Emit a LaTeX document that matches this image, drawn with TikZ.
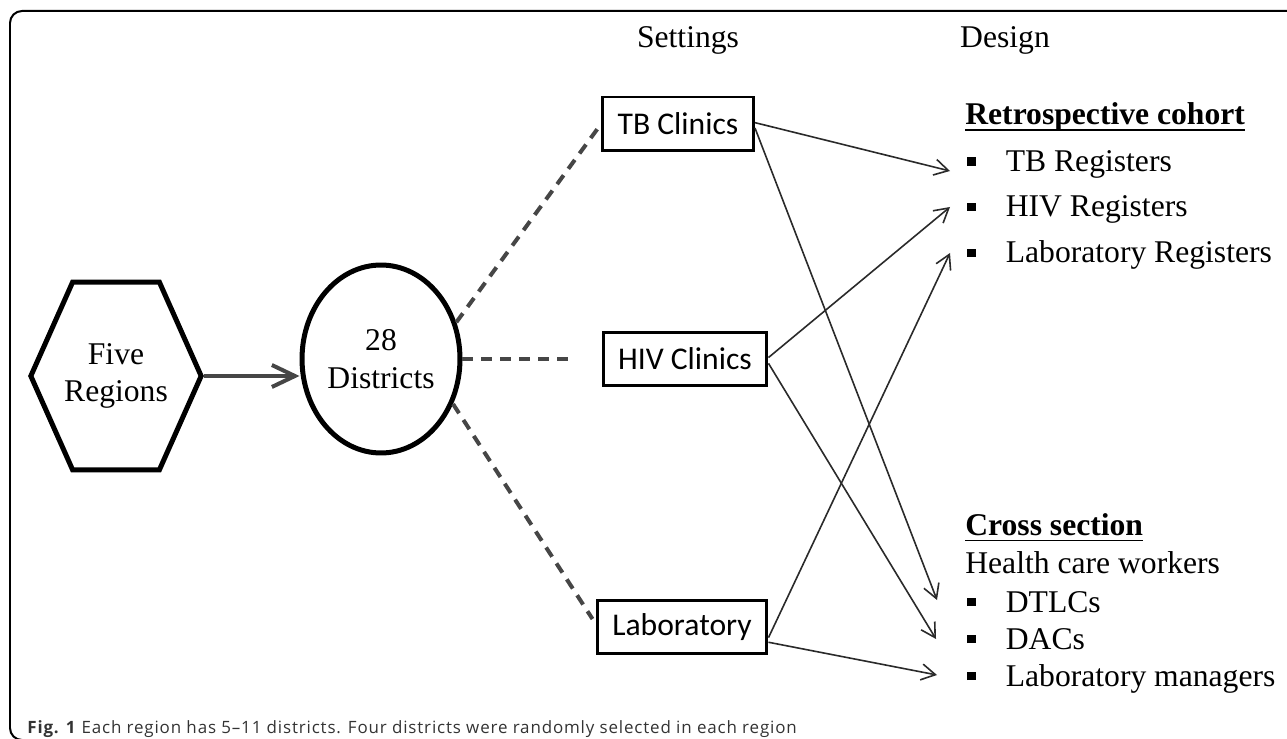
\documentclass[tikz,border=0pt]{standalone}
\usepackage{fontspec}
\setmainfont{Liberation Serif}
\newfontfamily\boxfont{Carlito}
\newfontfamily\capfont[LetterSpace=5]{Open Sans}
\usetikzlibrary{arrows.meta,shapes.geometric,shapes.symbols}

\definecolor{linegray}{HTML}{2A2A2A}
\definecolor{dashgray}{HTML}{464646}
\definecolor{capgray}{HTML}{333333}

\newcommand{\bigtext}{\fontsize{18}{21.5}\selectfont}
\newcommand{\sqbullet}{\raisebox{0.12cm}{\rule{0.17cm}{0.17cm}}\hspace{0.6cm}}
\newcommand{\headline}[1]{\setbox0\hbox{#1}\rlap{\rule[-0.13cm]{\wd0}{0.04cm}}\box0}

\tikzstyle{setting}=[draw,line width=0.06cm,inner sep=0pt,minimum height=1.08cm,font=\boxfont\bigtext]
\tikzstyle{region}=[draw,line width=0.1cm,align=center,inner sep=0pt,font=\bigtext]
\tikzstyle{item}=[anchor=base west,inner sep=0pt,font=\bigtext]
\tikzstyle{main edge}=[draw,line width=0.08cm,dashgray,-{Straight Barb[length=0.46cm,width=0.44cm]}]
\tikzstyle{dash edge}=[draw,line width=0.08cm,dashgray,dash pattern=on 0.22cm off 0.16cm]
\tikzstyle{design edge}=[draw,line width=0.032cm,linegray,-{Straight Barb[length=0.28cm,width=0.32cm]}]

\begin{document}
\begin{tikzpicture}[x=0.02cm,y=-0.02cm]
\useasboundingbox (0,0) rectangle (1287,739);
% frame round the figure
\draw[line width=0.04cm,rounded corners=0.24cm] (1300,11) -- (10,11) -- (10,740) -- (40,740);

% column heads
\node[anchor=base,font=\bigtext] (settings) at (688,48) {Settings};
\node[anchor=base,font=\bigtext] (design) at (1005,48) {Design};

% regions and districts
\node[region,shape=signal,signal to=west and east,signal pointer angle=132,
      inner xsep=-0.17cm,minimum height=3.76cm] (five) at (116,376) {Five\\Regions};
\node[region,ellipse,minimum width=3.16cm,minimum height=3.76cm] (dist) at (381,359) {28\\Districts};

% settings
\node[setting,minimum width=3.02cm] (tb) at (678,124) {TB Clinics};
\node[setting,minimum width=3.28cm] (hiv) at (685,359) {HIV Clinics};
\node[setting,minimum width=3.4cm] (lab) at (682,627) {Laboratory};

% design
\node[item,font=\bfseries\bigtext] (retro) at (965,125) {\headline{Retrospective cohort}};
\node[item] (tbreg) at (967,172) {\sqbullet TB Registers};
\node[item] (hivreg) at (967,217) {\sqbullet HIV Registers};
\node[item] (labreg) at (967,263) {\sqbullet Laboratory Registers};
\node[item,font=\bfseries\bigtext] (cross) at (965,535) {\headline{Cross section}};
\node[item] (hcw) at (965,573) {Health care workers};
\node[item] (dtlc) at (967,612) {\sqbullet DTLCs};
\node[item] (dac) at (967,649) {\sqbullet DACs};
\node[item] (labman) at (967,686) {\sqbullet Laboratory managers};

% arrow tips in front of the lists
\coordinate (ptbreg) at (950,171);
\coordinate (phivreg) at (950,207);
\coordinate (plabreg) at (950,253);
\coordinate (pdtlc) at (937,600);
\coordinate (pdac) at (936,639);
\coordinate (plabman) at (937,675);

\node[anchor=base west,inner sep=0pt,text=capgray,font=\capfont\fontsize{9.65}{11}\selectfont] (caption) at (27,733)
  {\textbf{Fig. 1} Each region has 5–11 districts. Four districts were randomly selected in each region};

% Connect regions to districts, districts to settings
\path[main edge] (five.east) -- (five.east -| dist.west);
\path[dash edge] (dist.26) -- (tb.west);
\path[dash edge] (dist.east) -- ([xshift=-0.56cm]hiv.west);
\path[dash edge] (dist.-32) -- ([xshift=-0.06cm,yshift=0.16cm]lab.west);
% Connect settings to design
\foreach \source/\dest in {tb.1/ptbreg, tb.-3/pdtlc, hiv.1/phivreg, hiv.-3/pdac, lab.-7/plabreg, lab.-10/plabman}
  \path[design edge] (\source) to (\dest);
\end{tikzpicture}
\end{document}
